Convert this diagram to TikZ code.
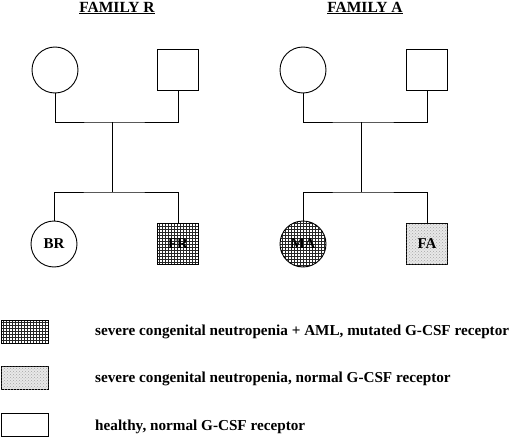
\documentclass[tikz,border=0pt]{standalone}
\usepackage{fontspec}
\setmainfont{Liberation Serif}
\usetikzlibrary{patterns}
\tikzset{
  female/.style={draw, circle, line width=0.9pt, minimum size=46pt, inner sep=0pt, font=\fontsize{15}{18}\selectfont\bfseries},
  male/.style={draw, rectangle, line width=0.9pt, minimum size=41pt, inner sep=0pt, font=\fontsize{15}{18}\selectfont\bfseries},
  aml/.style={pattern=grid, pattern color=black!85},
  scn/.style={fill=gray!18, postaction={pattern=crosshatch dots, pattern color=gray!70}},
  keybox/.style={draw, rectangle, line width=0.9pt, minimum width=47pt, minimum height=23pt, inner sep=0pt},
  keytext/.style={anchor=west, inner sep=0pt, font=\fontsize{15.2}{18}\selectfont\bfseries},
  title/.style={font=\fontsize{15.5}{18}\selectfont\bfseries, inner sep=0pt},
  link/.style={line width=0.9pt}
}

\begin{document}
\begin{tikzpicture}[x=1pt, y=-1pt]
\useasboundingbox (0,0) rectangle (520,439);

% titles
\node[title] (tR) at (117,8) {\underline{FAMILY R}};
\node[title] (tA) at (365,8) {\underline{FAMILY A}};

% family R
\node[female] (mR) at (55,70) {};
\node[male] (fR) at (178,70) {};
\node[female] (bR) at (54,244) {BR};
\node[male, aml] (frR) at (178,244) {FR};
\coordinate (jR) at (112,122);
\coordinate (sR) at (112,192);
\draw[link] (mR.south) |- (jR) -| (fR.south);
\draw[link] (jR) -- (sR);
\draw[link] (bR.north) |- (sR) -| (frR.north);

% family A
\node[female] (mA) at (303,70) {};
\node[male] (fA) at (427,70) {};
\node[female, aml] (maA) at (303,244) {MA};
\node[male, scn] (faA) at (427,244) {FA};
\coordinate (jA) at (361,122);
\coordinate (sA) at (361,192);
\draw[link] (mA.south) |- (jA) -| (fA.south);
\draw[link] (jA) -- (sA);
\draw[link] (maA.north) |- (sA) -| (faA.north);

% key
\node[keybox, aml] (k1) at (25,332) {};
\node[keybox, scn] (k2) at (25,378) {};
\node[keybox] (k3) at (25,425) {};
\node[keytext] (l1) at (95,332) {severe congenital neutropenia + AML, mutated G-CSF receptor};
\node[keytext] (l2) at (95,379) {severe congenital neutropenia, normal G-CSF receptor};
\node[keytext] (l3) at (95,427) {healthy, normal G-CSF receptor};

\end{tikzpicture}
\end{document}
